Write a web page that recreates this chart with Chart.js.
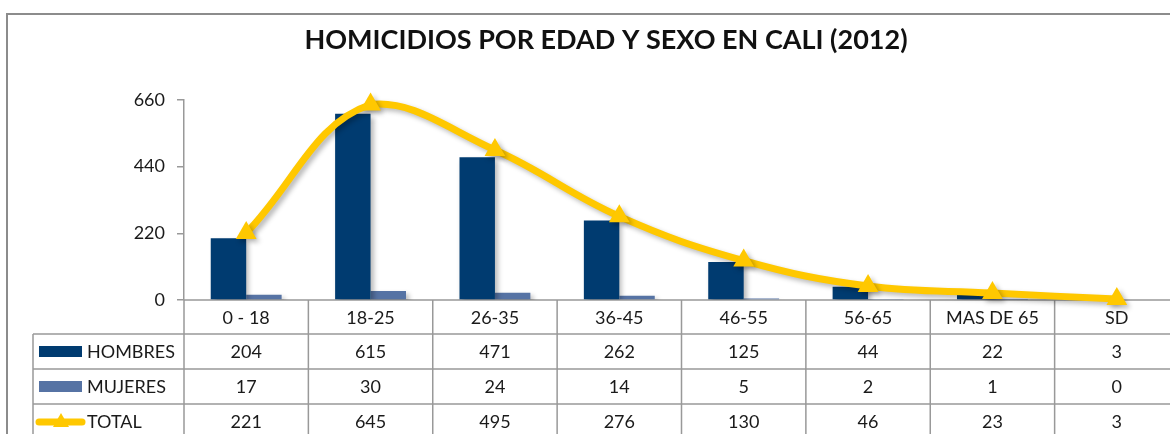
<!DOCTYPE html>
<html>
<head>
<meta charset="utf-8">
<title>Homicidios por edad y sexo en Cali (2012)</title>
<script src="https://cdn.jsdelivr.net/npm/chart.js@4.4.1/dist/chart.umd.min.js"></script>
<style>
  html, body { margin: 0; padding: 0; background: #fff; overflow: hidden; }
  #wrap { position: relative; width: 1170px; height: 434px; overflow: hidden; }
  canvas { display: block; }
</style>
</head>
<body>
<div id="wrap"><canvas id="chart" width="1180" height="434"></canvas></div>
<script>
// --- DATA ---
const TITLE = 'HOMICIDIOS POR EDAD Y SEXO EN CALI (2012)';
const categories = ['0 - 18', '18-25', '26-35', '36-45', '46-55', '56-65', 'MAS DE 65', 'SD'];
const hombres = [204, 615, 471, 262, 125, 44, 22, 3];
const mujeres = [17, 30, 24, 14, 5, 2, 1, 0];
const total = [221, 645, 495, 276, 130, 46, 23, 3];
const yTicks = [0, 220, 440, 660];

// --- STYLE ---
const NAVY = '#003b70';
const STEEL = '#5673a4';
const GOLD = '#ffc800';
const LINE_GRAY = '#999999';
const FONT = 'Lato, "Open Sans", sans-serif';

const rows = [
    { label: 'HOMBRES', values: hombres, key: 'bar', color: NAVY },
    { label: 'MUJERES', values: mujeres, key: 'bar', color: STEEL },
    { label: 'TOTAL', values: total, key: 'line', color: GOLD }
];

// frame + title
const framePlugin = {
    id: 'frame',
    beforeDraw(chart) {
        const ctx = chart.ctx;
        ctx.save();
        ctx.strokeStyle = '#8c8c8c';
        ctx.lineWidth = 2;
        ctx.beginPath();
        ctx.moveTo(7, chart.height);
        ctx.lineTo(7, 14);
        ctx.lineTo(chart.width, 14);
        ctx.stroke();

        ctx.fillStyle = '#111';
        ctx.font = 'bold 27px ' + FONT;
        ctx.textAlign = 'center';
        ctx.textBaseline = 'middle';
        ctx.fillText(TITLE, 606, 40);
        ctx.restore();
    }
};

// data table under the plot, lined up with the x scale
const tablePlugin = {
    id: 'dataTable',
    beforeDatasetsDraw(chart) {
        const ctx = chart.ctx;
        const xs = chart.scales.x;
        const top = chart.chartArea.bottom;
        const colW = xs.width / categories.length;
        const rowTops = [top, top + 34, top + 69, top + 104];
        const tableLeft = 33;

        ctx.save();
        ctx.strokeStyle = LINE_GRAY;
        ctx.lineWidth = 1.5;

        // horizontal rules
        ctx.beginPath();
        ctx.moveTo(xs.left, rowTops[0]);
        ctx.lineTo(chart.width, rowTops[0]);
        for (let r = 1; r < rowTops.length; r++) {
            ctx.moveTo(tableLeft, rowTops[r]);
            ctx.lineTo(chart.width, rowTops[r]);
        }
        // vertical rules
        ctx.moveTo(tableLeft, rowTops[1]);
        ctx.lineTo(tableLeft, chart.height);
        for (let i = 0; i <= categories.length; i++) {
            const x = xs.left + i * colW;
            ctx.moveTo(x, rowTops[0]);
            ctx.lineTo(x, chart.height);
        }
        ctx.stroke();

        ctx.fillStyle = '#1a1a1a';
        ctx.font = '18px ' + FONT;
        ctx.textAlign = 'center';
        ctx.textBaseline = 'middle';

        categories.forEach((c, i) => {
            ctx.fillText(c, xs.getPixelForValue(i), rowTops[0] + 18);
        });

        rows.forEach((row, r) => {
            const cy = rowTops[r + 1] + 18;
            row.values.forEach((v, i) => {
                ctx.fillText(String(v), xs.getPixelForValue(i), cy);
            });

            // legend key
            if (row.key === 'bar') {
                ctx.fillStyle = row.color;
                ctx.fillRect(39, cy - 6, 43, 11);
            } else {
                ctx.strokeStyle = row.color;
                ctx.lineWidth = 7;
                ctx.lineCap = 'round';
                ctx.beginPath();
                ctx.moveTo(39, cy);
                ctx.lineTo(82, cy);
                ctx.stroke();
                ctx.fillStyle = row.color;
                ctx.beginPath();
                ctx.moveTo(61, cy - 9);
                ctx.lineTo(69, cy + 5);
                ctx.lineTo(53, cy + 5);
                ctx.closePath();
                ctx.fill();
            }
            ctx.fillStyle = '#1a1a1a';
            ctx.textAlign = 'left';
            ctx.fillText(row.label, 87, cy);
            ctx.textAlign = 'center';
        });
        ctx.restore();
    }
};

// soft drop shadow like the original office chart
const shadowPlugin = {
    id: 'softShadow',
    beforeDatasetDraw(chart) {
        const ctx = chart.ctx;
        ctx.save();
        ctx.shadowColor = 'rgba(0,0,0,0.28)';
        ctx.shadowBlur = 5;
        ctx.shadowOffsetX = 3;
        ctx.shadowOffsetY = 3;
    },
    afterDatasetDraw(chart) {
        chart.ctx.restore();
    }
};

new Chart(document.getElementById('chart'), {
    type: 'bar',
    data: {
        labels: categories,
        datasets: [
            {
                type: 'line',
                label: 'TOTAL',
                data: total,
                borderColor: GOLD,
                backgroundColor: GOLD,
                borderWidth: 7,
                tension: 0.4,
                pointStyle: 'triangle',
                pointRadius: 12,
                pointBorderWidth: 0,
                pointBackgroundColor: GOLD,
                clip: false,
                order: 0
            },
            {
                label: 'HOMBRES',
                data: hombres,
                backgroundColor: NAVY,
                categoryPercentage: 0.57,
                barPercentage: 1,
                order: 1
            },
            {
                label: 'MUJERES',
                data: mujeres,
                backgroundColor: STEEL,
                categoryPercentage: 0.57,
                barPercentage: 1,
                order: 1
            }
        ]
    },
    options: {
        responsive: false,
        animation: false,
        layout: { autoPadding: false, padding: { top: 100, bottom: 134, left: 7, right: 1 } },
        plugins: {
            legend: { display: false },
            title: { display: false },
            tooltip: { enabled: false }
        },
        scales: {
            x: {
                display: false
            },
            y: {
                min: 0,
                max: 660,
                afterFit: s => { s.width = 177; },
                afterBuildTicks: s => { s.ticks = yTicks.map(v => ({ value: v })); },
                ticks: {
                    color: '#1a1a1a',
                    font: { family: FONT, size: 18 },
                    padding: 12
                },
                grid: {
                    drawOnChartArea: false,
                    drawTicks: true,
                    tickLength: 7,
                    color: LINE_GRAY,
                    lineWidth: 1.5
                },
                border: { color: LINE_GRAY, width: 1.5 }
            }
        }
    },
    plugins: [framePlugin, tablePlugin, shadowPlugin]
});
</script>
</body>
</html>
